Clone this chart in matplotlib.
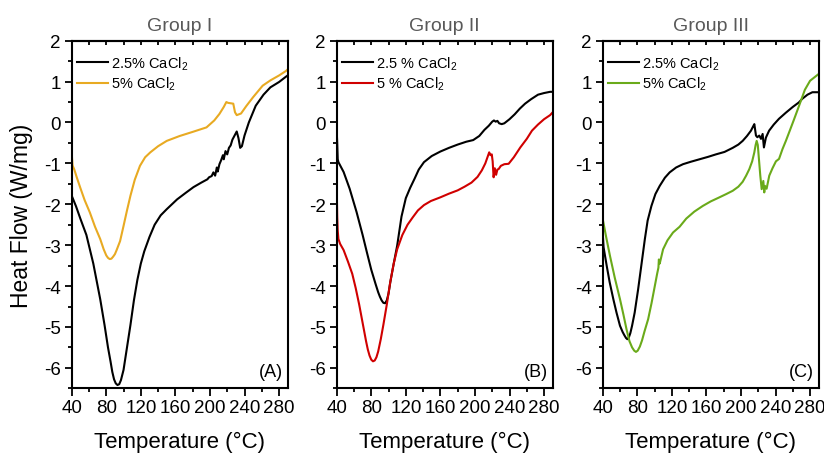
import matplotlib
matplotlib.use("Agg")
import matplotlib.pyplot as plt
from matplotlib.ticker import MultipleLocator

plt.rcParams['font.family'] = ['Liberation Sans', 'DejaVu Sans']
plt.rcParams['mathtext.fontset'] = 'custom'
plt.rcParams['mathtext.rm'] = 'Liberation Sans'
plt.rcParams['mathtext.it'] = 'Liberation Sans'

# ---------------- data ----------------
titles = ["Group I", "Group II", "Group III"]
panel_tags = ["(A)", "(B)", "(C)"]
labels_a = ["2.5% CaCl$_2$", "5% CaCl$_2$"]
labels_b = ["2.5 % CaCl$_2$", "5 % CaCl$_2$"]
labels_c = ["2.5% CaCl$_2$", "5% CaCl$_2$"]
colors_a = ["#000000", "#E8AA22"]
colors_b = ["#000000", "#D00000"]
colors_c = ["#000000", "#6AAA1A"]

# Group I, 2.5% CaCl2
a1_x = [40, 45, 50, 57, 65, 73, 78, 82, 85, 87, 89, 91, 93, 95, 97, 100, 104, 108, 112, 116, 120, 124, 130,
        136, 143, 150, 162, 172, 181, 190, 197, 199, 202, 204, 206, 208, 209, 211, 213, 215, 216, 218, 220,
        222, 224, 226, 229, 231, 233, 235, 237, 240, 245, 253, 262, 270, 280, 288, 290]
a1_y = [-1.79, -2.05, -2.35, -2.75, -3.45, -4.32, -4.95, -5.5, -5.85, -6.1, -6.28, -6.38, -6.42, -6.4,
        -6.3, -6.05, -5.5, -4.95, -4.35, -3.85, -3.45, -3.15, -2.8, -2.5, -2.27, -2.12, -1.88, -1.72, -1.58,
        -1.47, -1.39, -1.34, -1.31, -1.22, -1.3, -1.1, -1.2, -1.02, -0.92, -0.8, -0.9, -0.7, -0.78, -0.62,
        -0.56, -0.42, -0.3, -0.22, -0.38, -0.62, -0.58, -0.32, 0.0, 0.41, 0.68, 0.86, 0.99, 1.12, 1.15]

# Group I, 5% CaCl2
a2_x = [40, 41, 43, 46, 50, 55, 61, 67, 73, 77, 80, 82, 84, 86, 88, 90, 92, 96, 100, 104, 108, 113, 119,
        125, 131, 140, 150, 165, 180, 196, 205, 211, 216, 219, 221, 224, 227, 229, 231, 236, 242, 250, 261,
        270, 280, 288, 290]
a2_y = [-0.75, -1.05, -1.15, -1.35, -1.6, -1.9, -2.2, -2.55, -2.85, -3.1, -3.25, -3.31, -3.34, -3.33,
        -3.28, -3.22, -3.12, -2.9, -2.53, -2.15, -1.79, -1.4, -1.06, -0.85, -0.73, -0.58, -0.45, -0.33,
        -0.23, -0.12, 0.05, 0.21, 0.38, 0.5, 0.48, 0.47, 0.46, 0.25, 0.18, 0.22, 0.4, 0.62, 0.9, 1.03,
        1.15, 1.26, 1.3]

# Group II, 2.5% CaCl2
b1_x = [40, 40.6, 41.2, 42, 44, 48, 55, 63, 70, 75, 80, 85, 88, 90, 92, 94, 96, 98, 100, 102, 106, 110,
        115, 120, 125, 130, 135, 141, 150, 160, 170, 180, 190, 198, 205, 211, 216, 220, 222, 224, 226, 228,
        231, 234, 240, 246, 252, 258, 265, 273, 280, 287, 290]
b1_y = [-0.2, -0.5, -0.9, -0.97, -1.05, -1.21, -1.62, -2.19, -2.75, -3.18, -3.6, -3.95, -4.15, -4.26,
        -4.35, -4.41, -4.42, -4.35, -4.18, -3.91, -3.45, -3.01, -2.3, -1.85, -1.6, -1.38, -1.15, -0.97,
        -0.82, -0.71, -0.62, -0.54, -0.47, -0.43, -0.33, -0.18, -0.08, 0.02, 0.05, 0.02, 0.04, -0.02,
        -0.04, -0.02, 0.08, 0.2, 0.34, 0.46, 0.57, 0.68, 0.72, 0.75, 0.75]

# Group II, 5% CaCl2
b2_x = [40, 40.6, 41.2, 42, 44, 48, 53, 58, 62, 66, 70, 74, 76, 78, 80, 82, 84, 86, 88, 91, 94, 98, 102,
        106, 110, 116, 122, 128, 134, 141, 149, 160, 170, 180, 188, 196, 203, 208, 212, 215, 216.5, 218,
        219.5, 220.5, 221.6, 223, 224.5, 226, 227.4, 230, 234, 239, 245, 252.5, 260, 266, 273, 280, 287, 290]
b2_y = [-1.55, -2.3, -2.65, -2.85, -2.97, -3.12, -3.4, -3.7, -4.05, -4.45, -4.9, -5.35, -5.55, -5.7,
        -5.8, -5.84, -5.82, -5.74, -5.6, -5.3, -4.95, -4.45, -3.9, -3.45, -3.1, -2.75, -2.5, -2.32, -2.15,
        -2.02, -1.92, -1.83, -1.74, -1.66, -1.57, -1.47, -1.33, -1.17, -1.0, -0.82, -0.73, -0.8, -0.78,
        -0.95, -1.34, -1.12, -1.28, -1.15, -1.14, -1.06, -1.02, -1.01, -0.85, -0.61, -0.4, -0.2, -0.05,
        0.08, 0.18, 0.25]

# Group III, 2.5% CaCl2
c1_x = [40, 41, 44.6, 48, 52.3, 56, 60, 63, 65, 67, 68.5, 70, 72, 74, 77, 81, 85, 88.8, 92, 96.4, 101,
        106, 112, 117.5, 125, 132.9, 142, 152, 162, 171, 181, 190.5, 197, 202, 207, 211.6, 214, 215.5,
        217.4, 219, 221.2, 223.2, 225.1, 226.6, 228.9, 232.6, 238, 244, 252, 260, 267, 271, 277, 282.7, 289]
c1_y = [-2.7, -3.05, -3.5, -3.9, -4.32, -4.65, -4.97, -5.12, -5.2, -5.27, -5.3, -5.27, -5.15, -4.97,
        -4.65, -4.08, -3.45, -2.85, -2.4, -2.04, -1.75, -1.55, -1.35, -1.22, -1.1, -1.02, -0.96, -0.9,
        -0.84, -0.78, -0.72, -0.62, -0.54, -0.45, -0.33, -0.2, -0.1, -0.04, -0.32, -0.36, -0.32, -0.4,
        -0.28, -0.61, -0.37, -0.2, -0.05, 0.09, 0.24, 0.38, 0.49, 0.58, 0.68, 0.74, 0.74]

# Group III, 5% CaCl2
c2_x = [40, 44, 48.4, 54, 60, 64, 67.6, 71, 74, 76.5, 78.5, 80.5, 83, 85.5, 88.5, 92.6, 96.5, 100.3, 103,
        104.5, 105, 106, 109.9, 115, 121.4, 129, 136.7, 146, 155.9, 165, 175.1, 183, 190.5, 197, 202, 206,
        209.7, 213, 215.5, 217, 218.2, 219.5, 220.5, 222.4, 224, 225.9, 227, 227.8, 229.7, 232.8, 236.5,
        240.5, 244.1, 248.1, 252, 255.8, 261, 267.3, 274, 280, 289]
c2_y = [-2.36, -2.8, -3.26, -3.8, -4.32, -4.7, -5.06, -5.35, -5.5, -5.58, -5.61, -5.58, -5.48, -5.33,
        -5.1, -4.81, -4.42, -4.0, -3.7, -3.55, -3.35, -3.45, -3.1, -2.88, -2.69, -2.55, -2.35, -2.18,
        -2.04, -1.93, -1.83, -1.75, -1.67, -1.57, -1.45, -1.3, -1.14, -0.95, -0.73, -0.55, -0.45, -0.55,
        -0.81, -1.3, -1.63, -1.43, -1.71, -1.55, -1.62, -1.3, -1.12, -0.95, -0.89, -0.65, -0.45, -0.24,
        0.05, 0.41, 0.8, 1.02, 1.17]

x_lim = (40, 290)
y_lim = (-6.5, 2)
x_ticks = [40, 80, 120, 160, 200, 240, 280]
y_ticks = [-6, -5, -4, -3, -2, -1, 0, 1, 2]

panels = [
    ([(a1_x, a1_y), (a2_x, a2_y)], labels_a, colors_a),
    ([(b1_x, b1_y), (b2_x, b2_y)], labels_b, colors_b),
    ([(c1_x, c1_y), (c2_x, c2_y)], labels_c, colors_c),
]

# ---------------- figure ----------------
fig = plt.figure(figsize=(8.24, 4.56), dpi=100)
lefts = [71.7 / 824, 336.7 / 824, 602.7 / 824]
width = 216 / 824
bottom = 1 - 389.3 / 456
height = (389.3 - 41.7) / 456

for i, (series, labs, cols) in enumerate(panels):
    ax = fig.add_axes([lefts[i], bottom, width, height])
    for (xs, ys), lab, col in zip(series, labs, cols):
        ax.plot(xs, ys, color=col, lw=1.5, label=lab)
    ax.set_xlim(*x_lim)
    ax.set_ylim(*y_lim)
    ax.set_xticks(x_ticks)
    ax.set_yticks(y_ticks)
    ax.set_yticklabels([str(v) for v in y_ticks])
    ax.xaxis.set_minor_locator(MultipleLocator(20))
    ax.yaxis.set_minor_locator(MultipleLocator(0.5))
    for s in ax.spines.values():
        s.set_linewidth(1.5)
    ax.tick_params(axis='x', which='major', direction='out', length=5.5, width=1.3,
                   labelsize=13.5, pad=2, top=False)
    ax.tick_params(axis='x', which='minor', direction='out', length=3, width=1.3, top=False)
    ax.tick_params(axis='y', which='major', direction='out', length=5, width=1.3,
                   labelsize=13.5, pad=3, right=False)
    ax.tick_params(axis='y', which='minor', direction='out', length=3, width=1.3, right=False)
    # top ticks (inward)
    sec = ax.secondary_xaxis('top')
    sec.set_xticks(x_ticks)
    sec.xaxis.set_minor_locator(MultipleLocator(20))
    sec.tick_params(axis='x', which='both', direction='in', length=3, width=1.3, labeltop=False)
    sec.spines['top'].set_linewidth(1.5)
    ax.set_title(titles[i], fontsize=14, color='#595959', pad=8)
    ax.set_xlabel("Temperature (\u00b0C)", fontsize=16, labelpad=11)
    if i == 0:
        ax.set_ylabel("Heat Flow (W/mg)", fontsize=16.5, labelpad=8)
    ax.text(0.977, 0.025, panel_tags[i], transform=ax.transAxes, ha='right', va='bottom',
            fontsize=13)
    ax.legend(loc='upper left', frameon=False, fontsize=10.5, handlelength=2.1,
              handletextpad=0.25, borderaxespad=0.0, borderpad=0.0, labelspacing=0.2,
              bbox_to_anchor=(0.025, 0.96))

fig.savefig("out.png", dpi=100)
